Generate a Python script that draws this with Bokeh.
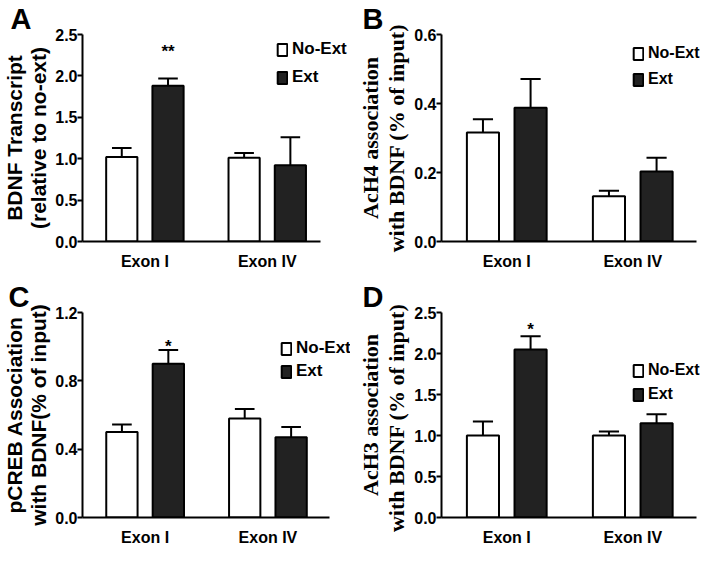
from bokeh.plotting import figure
from bokeh.models import Range1d, FixedTicker, Legend, LegendItem, NumeralTickFormatter
from bokeh.layouts import column, row
from bokeh.embed import file_html
from bokeh.resources import INLINE
from bokeh.core.properties import value

groups = ["Exon I", "Exon IV"]
series = ["No-Ext", "Ext"]

# Panel A: BDNF transcript
a_noext = [1.02, 1.01]
a_noext_err = [0.11, 0.06]
a_ext = [1.88, 0.92]
a_ext_err = [0.09, 0.34]
a_ticks = [0.0, 0.5, 1.0, 1.5, 2.0, 2.5]

# Panel B: AcH4
b_noext = [0.316, 0.131]
b_noext_err = [0.038, 0.016]
b_ext = [0.388, 0.203]
b_ext_err = [0.083, 0.040]
b_ticks = [0.0, 0.2, 0.4, 0.6]

# Panel C: pCREB
c_noext = [0.50, 0.58]
c_noext_err = [0.045, 0.055]
c_ext = [0.90, 0.47]
c_ext_err = [0.08, 0.06]
c_ticks = [0.0, 0.4, 0.8, 1.2]

# Panel D: AcH3
d_noext = [1.00, 1.00]
d_noext_err = [0.17, 0.05]
d_ext = [2.05, 1.15]
d_ext_err = [0.16, 0.11]
d_ticks = [0.0, 0.5, 1.0, 1.5, 2.0, 2.5]

# significance marks (group index, text, y)
a_sig = [(0, "**", 2.30)]
b_sig = []
c_sig = [(0, "*", 1.00)]
d_sig = [(0, "*", 2.29)]

SANS = "Liberation Sans"
SERIF = "Liberation Serif"
DARK = "#222222"
PX_PER_UNIT = 63.0


def panel(letter, ylabel, title_font, title_size, ticks, fmt,
          noext, noext_err, ext, ext_err, sig,
          size, borders, x0, x1, legend_loc, legend_spacing, legend_font, letter_off):
    left, top, bottom = borders
    width, height = size
    frame_w = width - left
    x_end = x0 + frame_w / PX_PER_UNIT
    p = figure(width=width, height=height, output_backend="svg", toolbar_location=None,
               x_range=Range1d(x0, x_end), y_range=Range1d(ticks[0], ticks[-1]),
               min_border_left=left, min_border_right=0,
               min_border_top=top, min_border_bottom=bottom)
    p.outline_line_color = None
    p.grid.visible = False
    p.background_fill_color = "white"
    p.border_fill_color = "white"

    p.title.text = letter
    p.title.align = "left"
    p.title.offset = letter_off
    p.title.standoff = 0
    p.title.text_font = SANS
    p.title.text_font_style = "bold"
    p.title.text_font_size = "29px"
    p.title.text_color = "black"
    p.title.text_line_height = 0.8

    centers = [1 + 2 * i for i in range(len(groups))]
    off = 0.378
    w = 0.51
    xs_n = [c - off for c in centers]
    xs_e = [c + off for c in centers]

    rn = p.vbar(x=xs_n, top=noext, width=w, bottom=0, fill_color="white",
                line_color="black", line_width=2)
    re = p.vbar(x=xs_e, top=ext, width=w, bottom=0, fill_color=DARK,
                line_color="black", line_width=2)

    cap = 0.16
    for xs, vals, errs in ((xs_n, noext, noext_err), (xs_e, ext, ext_err)):
        tops = [v + e for v, e in zip(vals, errs)]
        p.segment(x0=xs, y0=vals, x1=xs, y1=tops, line_color="black", line_width=2)
        p.segment(x0=[x - cap for x in xs], y0=tops, x1=[x + cap for x in xs], y1=tops,
                  line_color="black", line_width=2)

    for gi, txt, yv in sig:
        p.text(x=[xs_e[gi]], y=[yv], text=[txt], text_align="center",
               text_baseline="alphabetic", text_font=value(SANS),
               text_font_style="bold", text_font_size="17px", text_color="black")

    # y axis
    p.yaxis.ticker = FixedTicker(ticks=ticks)
    p.yaxis.formatter = NumeralTickFormatter(format=fmt)
    p.yaxis.minor_tick_line_color = None
    p.yaxis.major_tick_in = 0
    p.yaxis.major_tick_out = 5
    p.yaxis.major_tick_line_width = 2
    p.yaxis.axis_line_width = 2
    p.yaxis.major_label_standoff = 0
    p.yaxis.major_label_text_font = SANS
    p.yaxis.major_label_text_font_style = "bold"
    p.yaxis.major_label_text_font_size = "16px"
    p.yaxis.major_label_text_color = "black"
    p.yaxis.axis_label = ylabel
    p.yaxis.axis_label_text_font = title_font
    p.yaxis.axis_label_text_font_style = "bold"
    p.yaxis.axis_label_text_font_size = title_size
    p.yaxis.axis_label_text_color = "black"
    p.yaxis.axis_label_standoff = 2
    p.yaxis.axis_label_text_line_height = 1.05

    # x axis
    p.xaxis.axis_label = None
    p.xaxis.bounds = (x0, x1)
    p.xaxis.ticker = FixedTicker(ticks=centers)
    p.xaxis.major_label_overrides = {c: g for c, g in zip(centers, groups)}
    p.xaxis.major_tick_line_color = None
    p.xaxis.major_tick_in = 0
    p.xaxis.major_tick_out = 0
    p.xaxis.minor_tick_line_color = None
    p.xaxis.minor_tick_out = 0
    p.xaxis.axis_line_width = 2
    p.xaxis.axis_label_standoff = 0
    p.xaxis.major_label_standoff = 11
    p.xaxis.major_label_text_font = SANS
    p.xaxis.major_label_text_font_style = "bold"
    p.xaxis.major_label_text_font_size = "16px"
    p.xaxis.major_label_text_color = "black"

    legend = Legend(items=[LegendItem(label=series[0], renderers=[rn]),
                           LegendItem(label=series[1], renderers=[re])],
                    location=legend_loc, orientation="vertical",
                    border_line_color=None, background_fill_alpha=0,
                    label_text_font=SANS, label_text_font_style="bold",
                    label_text_font_size=legend_font, label_text_color="black",
                    glyph_width=12, glyph_height=15, spacing=legend_spacing,
                    padding=0, margin=0, label_standoff=4, label_height=15)
    p.add_layout(legend, "center")
    return p


TOP = (350, 272)
BOT = (350, 276)

pa = panel("A", "BDNF Transcript\n(relative to no-ext)", SANS, "21px", a_ticks, "0.0",
           a_noext, a_noext_err, a_ext, a_ext_err, a_sig,
           TOP, (74, 19, 30), -0.02, 3.87, (194, 154), 8, "17px", -72)
pb = panel("B", "AcH4 association\nwith BDNF (% of input)", SERIF, "22px", b_ticks, "0.0",
           b_noext, b_noext_err, b_ext, b_ext_err, b_sig,
           TOP, (91, 17, 30), -0.036, 4.01, (191, 153), 8, "16px", -79)
pc = panel("C", "pCREB Association\nwith BDNF(% of input)", SANS, "21px", c_ticks, "0.0",
           c_noext, c_noext_err, c_ext, c_ext_err, c_sig,
           BOT, (75, 38, 30), -0.02, 3.996, (198, 136), 3, "17px", -74)
pd = panel("D", "AcH3 association\nwith  BDNF (% of input)", SERIF, "22px", d_ticks, "0.0",
           d_noext, d_noext_err, d_ext, d_ext_err, d_sig,
           BOT, (91, 40, 30), -0.036, 4.01, (191, 114), 6, "16px", -79)

layout = column(row(pa, pb), row(pc, pd))

open("out.html", "w").write(file_html(layout, INLINE))
